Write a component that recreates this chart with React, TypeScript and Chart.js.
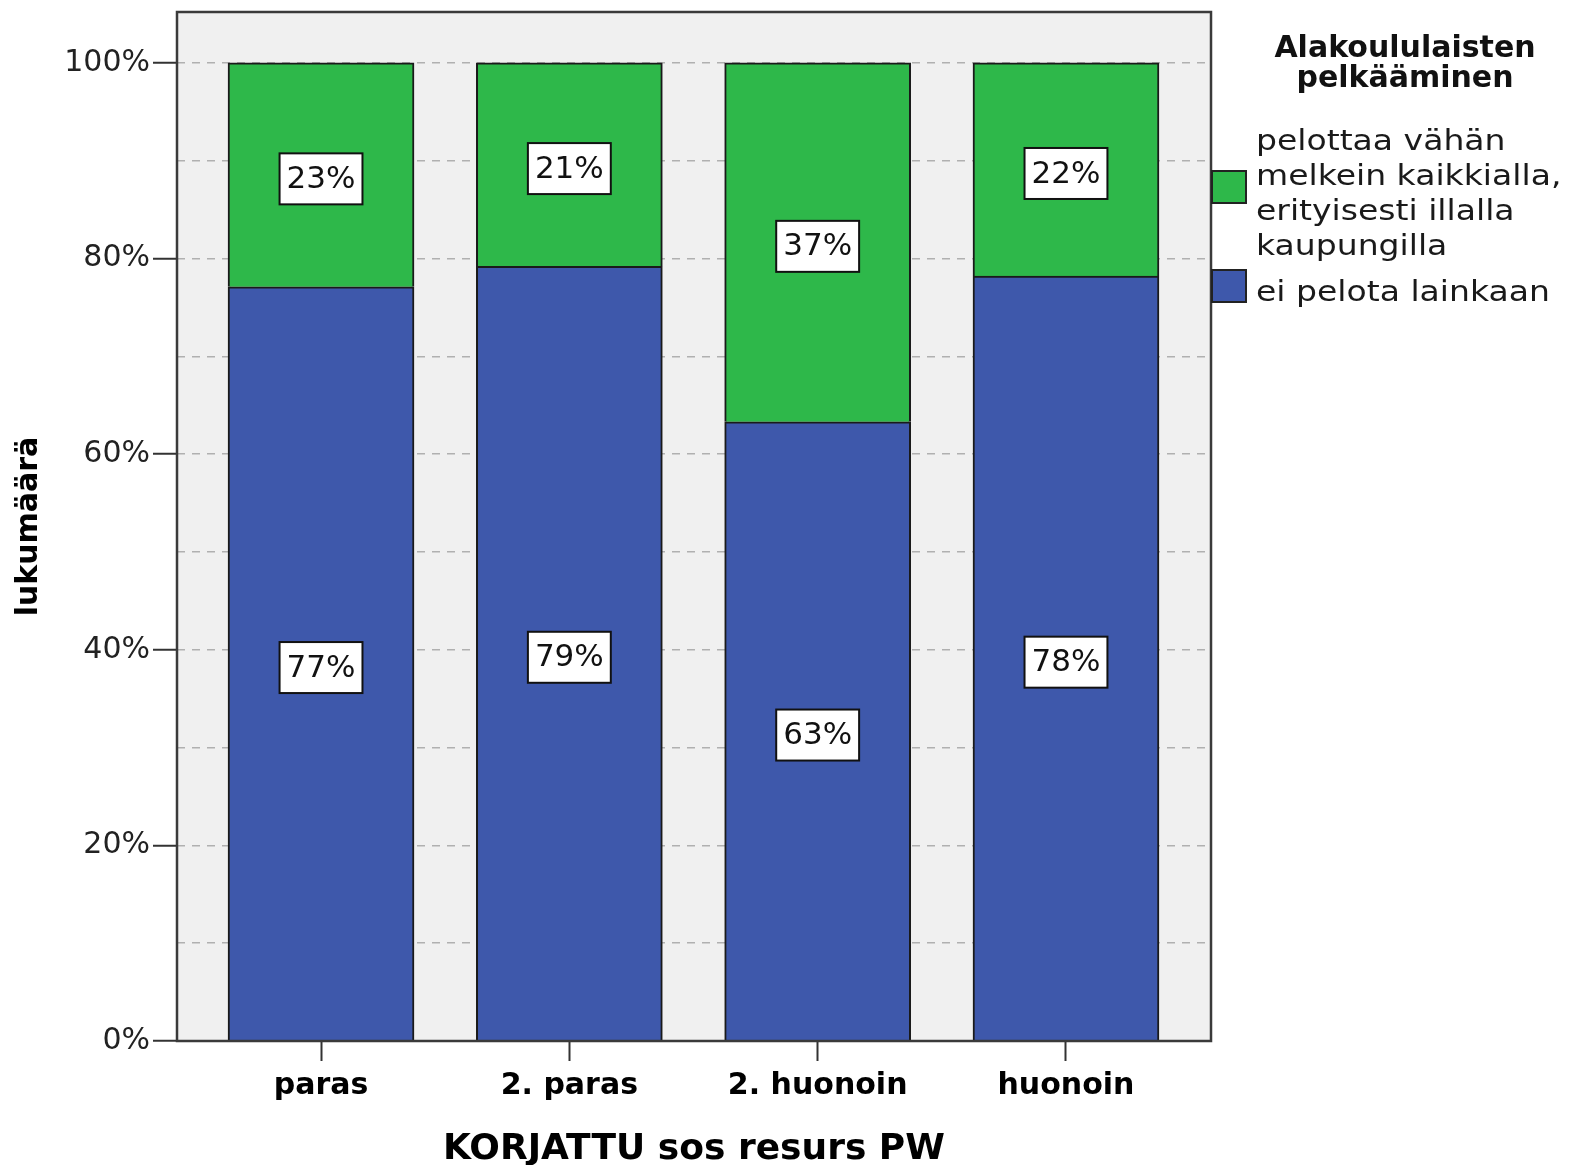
import React, { useEffect, useRef } from 'react';
import { Chart, registerables } from 'chart.js';

Chart.register(...registerables);

// ---- data ----
const categories = ['paras', '2. paras', '2. huonoin', 'huonoin'];
const eiPelotaValues = [77.1, 79.2, 63.3, 78.2];
const pelottaaValues = [22.9, 20.8, 36.7, 21.8];
const yTickValues = [0, 10, 20, 30, 40, 50, 60, 70, 80, 90, 100];
const legendTitle = ['Alakoululaisten', 'pelkääminen'];
const pelottaaLabel = ['pelottaa vähän', 'melkein kaikkialla,', 'erityisesti illalla', 'kaupungilla'];
const eiPelotaLabel = ['ei pelota lainkaan'];
const xTitle = 'KORJATTU sos resurs PW';
const yTitle = 'lukumäärä';

const GREEN = '#2EB84A';
const BLUE = '#3E58AB';
const FONT = '"DejaVu Sans", "Noto Sans", sans-serif';

const bgPlugin = {
  id: 'plotBg',
  beforeDraw(chart: any) {
    const { ctx, chartArea } = chart;
    ctx.save();
    ctx.fillStyle = '#ffffff';
    ctx.fillRect(0, 0, chart.width, chart.height);
    ctx.fillStyle = '#f0f0f0';
    ctx.fillRect(chartArea.left, chartArea.top, chartArea.right - chartArea.left, chartArea.bottom - chartArea.top);
    ctx.restore();
  },
};

const framePlugin = {
  id: 'frameAndLabels',
  afterDatasetsDraw(chart: any) {
    const { ctx, chartArea } = chart;
    ctx.save();
    ctx.strokeStyle = '#3a3a3a';
    ctx.lineWidth = 2.5;
    ctx.strokeRect(chartArea.left, chartArea.top, chartArea.right - chartArea.left, chartArea.bottom - chartArea.top);

    // data labels
    chart.data.datasets.forEach((ds: any, di: number) => {
      const meta = chart.getDatasetMeta(di);
      meta.data.forEach((bar: any, i: number) => {
        const p = bar.getProps(['x', 'y', 'base'], true);
        const cy = (p.y + p.base) / 2 + 4;
        const text = Math.round(ds.data[i].y) + '%';
        ctx.font = '31px ' + FONT;
        const w = ctx.measureText(text).width + 14;
        const h = 51;
        ctx.fillStyle = '#ffffff';
        ctx.fillRect(p.x - w / 2, cy - h / 2, w, h);
        ctx.strokeStyle = '#111';
        ctx.lineWidth = 2;
        ctx.strokeRect(p.x - w / 2, cy - h / 2, w, h);
        ctx.fillStyle = '#111';
        ctx.textAlign = 'center';
        ctx.textBaseline = 'middle';
        ctx.fillText(text, p.x, cy + 1);
      });
    });
    ctx.restore();
  },
};

const legendPlugin = {
  id: 'customLegend',
  afterDraw(chart: any) {
    const { ctx, chartArea } = chart;
    ctx.save();
    ctx.fillStyle = '#111';
    ctx.font = 'bold 30px ' + FONT;
    ctx.textAlign = 'center';
    ctx.textBaseline = 'alphabetic';
    legendTitle.forEach((t, i) => ctx.fillText(t, 1405, 57 + i * 30));

    const items = [
      { ds: 1, lines: pelottaaLabel, swatchY: 171, baseY: 150 },
      { ds: 0, lines: eiPelotaLabel, swatchY: 270, baseY: 301 },
    ];
    const sx = chartArea.right + 1;
    items.forEach((it) => {
      const color = chart.data.datasets[it.ds].backgroundColor;
      ctx.fillStyle = color;
      ctx.fillRect(sx, it.swatchY, 34, 32);
      ctx.strokeStyle = '#222';
      ctx.lineWidth = 2;
      ctx.strokeRect(sx, it.swatchY, 34, 32);
      ctx.fillStyle = '#1a1a1a';
      ctx.font = '28px ' + FONT;
      ctx.textAlign = 'left';
      it.lines.forEach((l, i) => {
        ctx.save();
        ctx.translate(1256, it.baseY + i * 35);
        ctx.scale(1.18, 1);
        ctx.fillText(l, 0, 0);
        ctx.restore();
      });
    });
    ctx.restore();
  },
};

export default function App() {
  const ref = useRef<HTMLCanvasElement | null>(null);

  useEffect(() => {
    if (!ref.current) return;
    const chart = new Chart(ref.current, {
      type: 'bar',
      data: {
        datasets: [
          {
            label: eiPelotaLabel.join(' '),
            data: eiPelotaValues.map((v, i) => ({ x: i, y: v })),
            backgroundColor: BLUE,
            borderColor: '#1a1a1a',
            borderWidth: 2,
            barThickness: 186,
          },
          {
            label: pelottaaLabel.join(' '),
            data: pelottaaValues.map((v, i) => ({ x: i, y: v })),
            backgroundColor: GREEN,
            borderColor: '#1a1a1a',
            borderWidth: 2,
            barThickness: 186,
          },
        ],
      },
      options: {
        responsive: false,
        animation: false,
        devicePixelRatio: 1,
        layout: { padding: { top: 12, right: 358, bottom: 0, left: 0 } },
        plugins: { legend: { display: false }, tooltip: { enabled: false } },
        scales: {
          x: {
            type: 'linear',
            min: -0.58,
            max: 3.584,
            stacked: true,
            offset: false,
            afterBuildTicks: (s: any) => {
              s.ticks = categories.map((_, i) => ({ value: i }));
            },
            afterFit: (s: any) => {
              s.height = 124;
              s.paddingLeft = 0;
              s.paddingRight = 0;
            },
            ticks: {
              callback: (v: any) => categories[v] ?? '',
              font: { family: FONT, size: 30, weight: 'bold' },
              color: '#000',
              padding: 7,
              maxRotation: 0,
              autoSkip: false,
            },
            grid: {
              display: true,
              drawOnChartArea: false,
              drawTicks: true,
              tickLength: 20,
              tickColor: '#333',
              tickWidth: 2,
              offset: false,
            },
            border: { display: false },
            title: {
              display: true,
              text: xTitle,
              font: { family: FONT, size: 36, weight: 'bold', lineHeight: 0.83 },
              color: '#000',
              padding: { top: 0, bottom: 0 },
            },
          },
          y: {
            min: 0,
            max: 105.2,
            stacked: true,
            afterBuildTicks: (s: any) => {
              s.ticks = yTickValues.map((v) => ({ value: v }));
            },
            afterFit: (s: any) => {
              s.width = 177;
              s.paddingTop = 0;
              s.paddingBottom = 0;
            },
            ticks: {
              callback: (v: any) => (v % 20 === 0 ? v + '%' : ''),
              font: { family: FONT, size: 30 },
              color: '#222',
              padding: 3,
              autoSkip: false,
            },
            grid: {
              color: (c: any) => (c.tick && c.tick.value > 0 ? '#b0b0b0' : 'transparent'),
              lineWidth: 1.5,
              tickColor: (c: any) => (c.tick && c.tick.value % 20 === 0 ? '#333' : 'transparent'),
              tickLength: 24,
              tickWidth: 2,
              tickBorderDash: [],
            },
            border: { display: false, dash: [8, 7] },
            title: {
              display: true,
              text: yTitle,
              font: { family: FONT, size: 30, weight: 'bold', lineHeight: 1 },
              color: '#000',
              padding: { top: 14, bottom: 0 },
            },
          },
        },
      } as any,
      plugins: [bgPlugin, framePlugin, legendPlugin],
    });
    return () => chart.destroy();
  }, []);

  return (
    <div style={{ position: 'absolute', left: 0, top: 0, width: 1569, height: 1165 }}>
      <canvas ref={ref} width={1569} height={1165} style={{ display: 'block' }} />
    </div>
  );
}
